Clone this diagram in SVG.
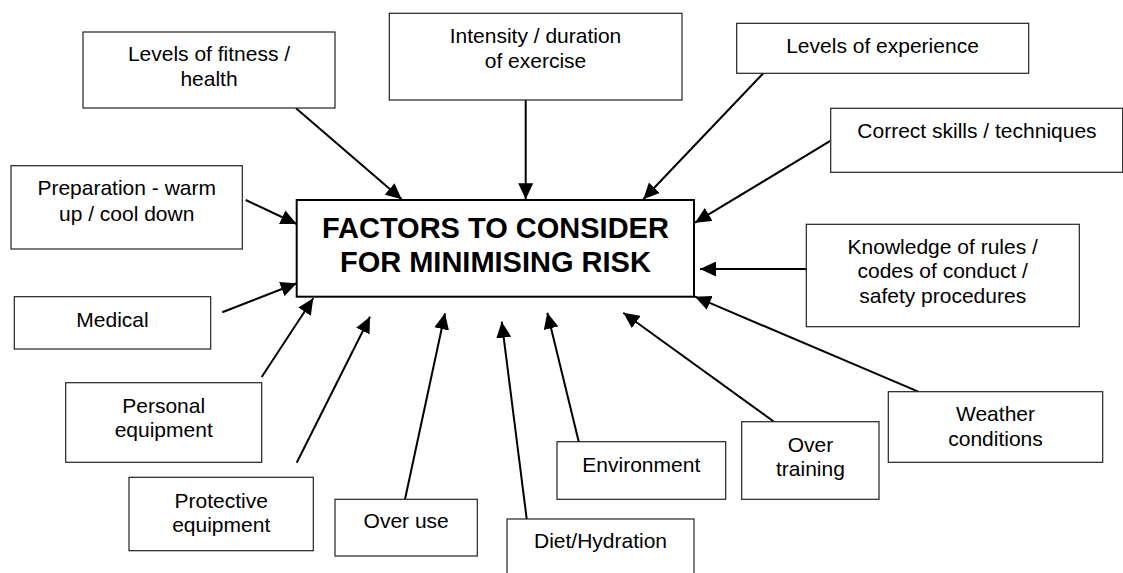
<svg xmlns="http://www.w3.org/2000/svg" width="1123" height="573" viewBox="0 0 1123 573">
<style>
.box{fill:#fff;stroke:#222;stroke-width:1.2}
.main{fill:#fff;stroke:#000;stroke-width:2}
.t{font-family:"Liberation Sans",Arial,sans-serif;font-size:21px;fill:#000;text-anchor:middle}
.title{font-family:"Liberation Sans",Arial,sans-serif;font-size:29px;font-weight:bold;fill:#000;text-anchor:middle}
.c{stroke:#000;stroke-width:2;fill:none;marker-end:url(#ah)}
</style>
<defs>
<marker id="ah" markerUnits="userSpaceOnUse" markerWidth="16" markerHeight="15" refX="16" refY="7.5" orient="auto">
<path d="M0,0 L16,7.5 L0,15 z" fill="#000"/>
</marker>
</defs>
<rect width="1123" height="573" fill="#fff"/>
<g id="connectors">
<line class="c" x1="296" y1="108.3" x2="401.7" y2="199.3"/>
<line class="c" x1="525.7" y1="100" x2="525.7" y2="199.3"/>
<line class="c" x1="763.3" y1="73.3" x2="643.3" y2="199.3"/>
<line class="c" x1="830.7" y1="140.7" x2="695" y2="222.7"/>
<line class="c" x1="806.3" y1="269" x2="700" y2="269"/>
<line class="c" x1="918.3" y1="391.7" x2="695" y2="296.7"/>
<line class="c" x1="774" y1="421.7" x2="623.3" y2="312.7"/>
<line class="c" x1="579" y1="442.7" x2="547.3" y2="312.7"/>
<line class="c" x1="526.7" y1="519" x2="501.7" y2="321.7"/>
<line class="c" x1="405" y1="499.3" x2="445" y2="313.3"/>
<line class="c" x1="296.7" y1="462.7" x2="370" y2="316.7"/>
<line class="c" x1="261.7" y1="377" x2="313.3" y2="298.3"/>
<line class="c" x1="222.3" y1="312.3" x2="296.7" y2="283.3"/>
<line class="c" x1="245.7" y1="200" x2="296.7" y2="224"/>
</g>
<g id="main">
<rect class="main" x="296.7" y="200" width="397.3" height="96.7"/>
<text class="title" x="495.4" y="238.3">FACTORS TO CONSIDER</text>
<text class="title" x="495.4" y="271.7">FOR MINIMISING RISK</text>
</g>
<g id="fitness">
<rect class="box" x="83" y="32" width="252" height="76"/>
<text class="t" x="209" y="61">Levels of fitness /</text>
<text class="t" x="209" y="86">health</text>
</g>
<g id="intensity">
<rect class="box" x="389.3" y="13.3" width="292.7" height="86.7"/>
<text class="t" x="535.5" y="43.3">Intensity / duration</text>
<text class="t" x="535.5" y="68.3">of exercise</text>
</g>
<g id="experience">
<rect class="box" x="736.7" y="23.3" width="292" height="50"/>
<text class="t" x="882.5" y="53.3">Levels of experience</text>
</g>
<g id="skills">
<rect class="box" x="830.7" y="108.3" width="292" height="64"/>
<text class="t" x="977" y="137.7">Correct skills / techniques</text>
</g>
<g id="knowledge">
<rect class="box" x="806.3" y="224.3" width="273" height="102.4"/>
<text class="t" x="942.7" y="254">Knowledge of rules /</text>
<text class="t" x="942.7" y="278.3">codes of conduct /</text>
<text class="t" x="942.7" y="302.7">safety procedures</text>
</g>
<g id="weather">
<rect class="box" x="888.3" y="391.7" width="214.4" height="70.6"/>
<text class="t" x="995.5" y="420.7">Weather</text>
<text class="t" x="995.5" y="445.7">conditions</text>
</g>
<g id="overtraining">
<rect class="box" x="741.7" y="421.7" width="137.3" height="77.6"/>
<text class="t" x="810.4" y="451.7">Over</text>
<text class="t" x="810.4" y="475.7">training</text>
</g>
<g id="environment">
<rect class="box" x="557" y="441.7" width="168.7" height="57.6"/>
<text class="t" x="641.3" y="471.7">Environment</text>
</g>
<g id="diet">
<rect class="box" x="507" y="519" width="187" height="70"/>
<text class="t" x="600.5" y="548.3">Diet/Hydration</text>
</g>
<g id="overuse">
<rect class="box" x="335" y="499.3" width="142.3" height="56.7"/>
<text class="t" x="406.2" y="528.3">Over use</text>
</g>
<g id="protective">
<rect class="box" x="129" y="477.3" width="184.3" height="73.4"/>
<text class="t" x="221.2" y="507.7">Protective</text>
<text class="t" x="221.2" y="531.7">equipment</text>
</g>
<g id="personal">
<rect class="box" x="65.7" y="382.7" width="196" height="79.6"/>
<text class="t" x="163.7" y="413.3">Personal</text>
<text class="t" x="163.7" y="436.7">equipment</text>
</g>
<g id="medical">
<rect class="box" x="14.3" y="296.7" width="196.4" height="52.3"/>
<text class="t" x="112.5" y="326.7">Medical</text>
</g>
<g id="preparation">
<rect class="box" x="11" y="165.7" width="231.3" height="83.3"/>
<text class="t" x="126.7" y="195">Preparation - warm</text>
<text class="t" x="126.7" y="221">up / cool down</text>
</g>
</svg>
